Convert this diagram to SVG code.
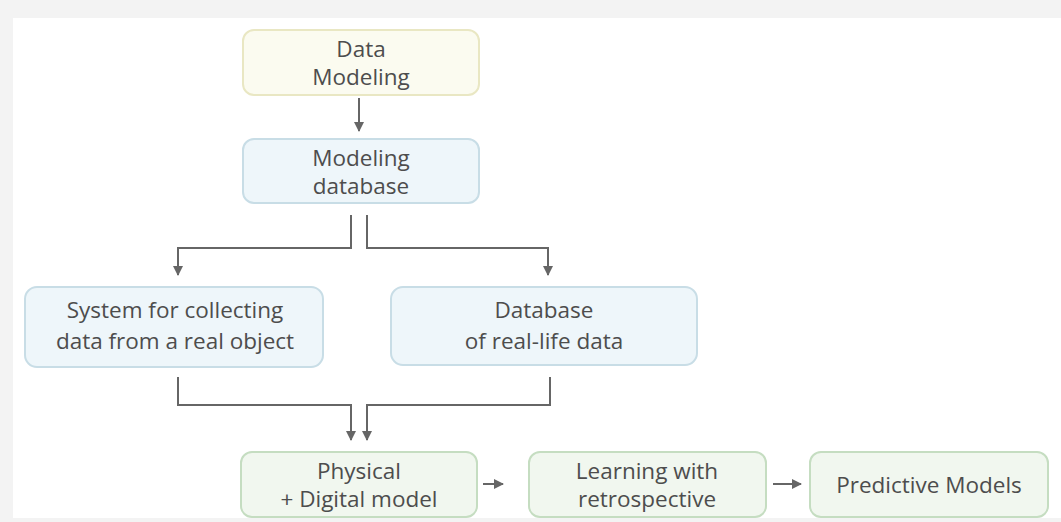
<svg xmlns="http://www.w3.org/2000/svg" width="1061" height="522" viewBox="0 0 1061 522">
<style>
.bg{fill:#f3f3f3}
.node rect{stroke-width:2}
.y rect{fill:#fbfbf0;stroke:#e9e7c3}
.b rect{fill:#eef6fa;stroke:#c8dde6}
.g rect{fill:#f1f7ef;stroke:#c5ddc1}
text{font-family:"Open Sans","Noto Sans",sans-serif;font-size:22.5px;fill:#4d4d4d;text-anchor:middle}
.conn path{fill:none;stroke:#666;stroke-width:2}
</style>
<defs>
<marker id="ah" viewBox="0 0 10 10" refX="9" refY="5" markerWidth="5" markerHeight="5" orient="auto" markerUnits="strokeWidth">
<path d="M0,0 L10,5 L0,10 z" fill="#666"/>
</marker>
</defs>
<rect class="bg" x="0" y="0" width="1061" height="522"/>
<rect x="13" y="18" width="1048" height="500" fill="#ffffff"/>
<g id="n1" class="node y"><rect x="243" y="30" width="236" height="65" rx="11"/><text x="361" y="57">Data</text><text x="361" y="85">Modeling</text></g>
<g id="n2" class="node b"><rect x="243" y="139" width="236" height="64" rx="11"/><text x="361" y="166">Modeling</text><text x="361" y="194">database</text></g>
<g id="n3" class="node b"><rect x="25" y="287" width="298" height="80" rx="12"/><text x="175" y="318">System for collecting</text><text x="175" y="349">data from a real object</text></g>
<g id="n4" class="node b"><rect x="391" y="287" width="306" height="78" rx="12"/><text x="544" y="318">Database</text><text x="544" y="349">of real-life data</text></g>
<g id="n5" class="node g"><rect x="241" y="452" width="236" height="65" rx="11"/><text x="359" y="479">Physical</text><text x="359" y="507">+ Digital model</text></g>
<g id="n6" class="node g"><rect x="529" y="452" width="237" height="65" rx="11"/><text x="647" y="479">Learning with</text><text x="647" y="507">retrospective</text></g>
<g id="n7" class="node g"><rect x="810" y="452" width="238" height="65" rx="11"/><text x="929" y="493">Predictive Models</text></g>
<g id="connectors" class="conn">
<path d="M359,98 V131" marker-end="url(#ah)"/>
<path d="M351,215 V248 H178 V275" marker-end="url(#ah)"/>
<path d="M367,215 V248 H548 V275" marker-end="url(#ah)"/>
<path d="M178,377 V405 H351 V440" marker-end="url(#ah)"/>
<path d="M550,377 V405 H367 V440" marker-end="url(#ah)"/>
<path d="M483,484 H503" marker-end="url(#ah)"/>
<path d="M773,484 H801" marker-end="url(#ah)"/>
</g>
</svg>
